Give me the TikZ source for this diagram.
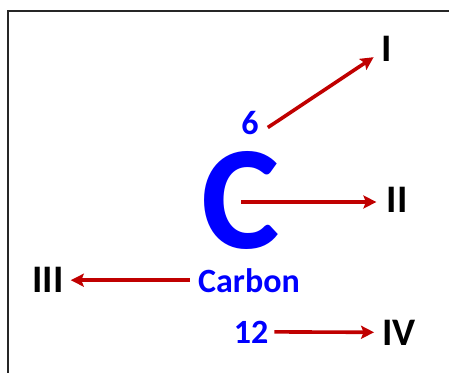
\documentclass[tikz,border=0pt]{standalone}
\usepackage{fontspec}
\setmainfont{Carlito}
\usetikzlibrary{arrows.meta}
\definecolor{arrowred}{RGB}{192,0,0}
\definecolor{elemblue}{RGB}{0,0,255}

\begin{document}
\begin{tikzpicture}[x=1pt, y=-1pt,
        elem/.style={inner sep=0pt, anchor=base, text=elemblue, font=\bfseries\fontsize{34}{34}\selectfont},
        numeral/.style={inner sep=0pt, anchor=base, text=black, font=\bfseries\fontsize{39}{39}\selectfont},
        arrow/.style={-{Stealth[length=13pt, width=13pt, inset=2.5pt]}, line width=3.6pt, arrowred}
    ]
        \useasboundingbox (0,0) rectangle (449,372);

        % Frame
        \draw[line width=1.4pt, black!85] (8,11) rectangle (470,390);

        % Element
        \node[elem, font=\bfseries\fontsize{148}{148}\selectfont, text height=98pt, text depth=0pt] (sym) at (241,248) {C};
        \node[elem] (six) at (250,134) {6};
        \node[elem] (name) at (249,292) {Carbon};
        \node[elem] (twelve) at (251,343) {12};

        % Numerals
        \node[numeral] (one) at (387,61) {I};
        \node[numeral] (two) at (397,212) {II};
        \node[numeral] (three) at (48,292) {III};
        \node[numeral] (four) at (399,345) {IV};

        % Paths
        \draw[arrow] ([xshift=9pt, yshift=-5pt]six.east) -- ([xshift=-8pt, yshift=4pt]one.south west);
        \draw[arrow, shorten >=10pt] ([yshift=-3pt]sym.center) -- ([yshift=-3pt]sym.center -| two.west);
        \draw[arrow, shorten <=8pt, shorten >=7pt] (name.west) -- (name.west -| three.east);
        \draw[arrow, shorten <=6pt, shorten >=8pt] (twelve.east) -- (four.west);

    \end{tikzpicture}
\end{document}
